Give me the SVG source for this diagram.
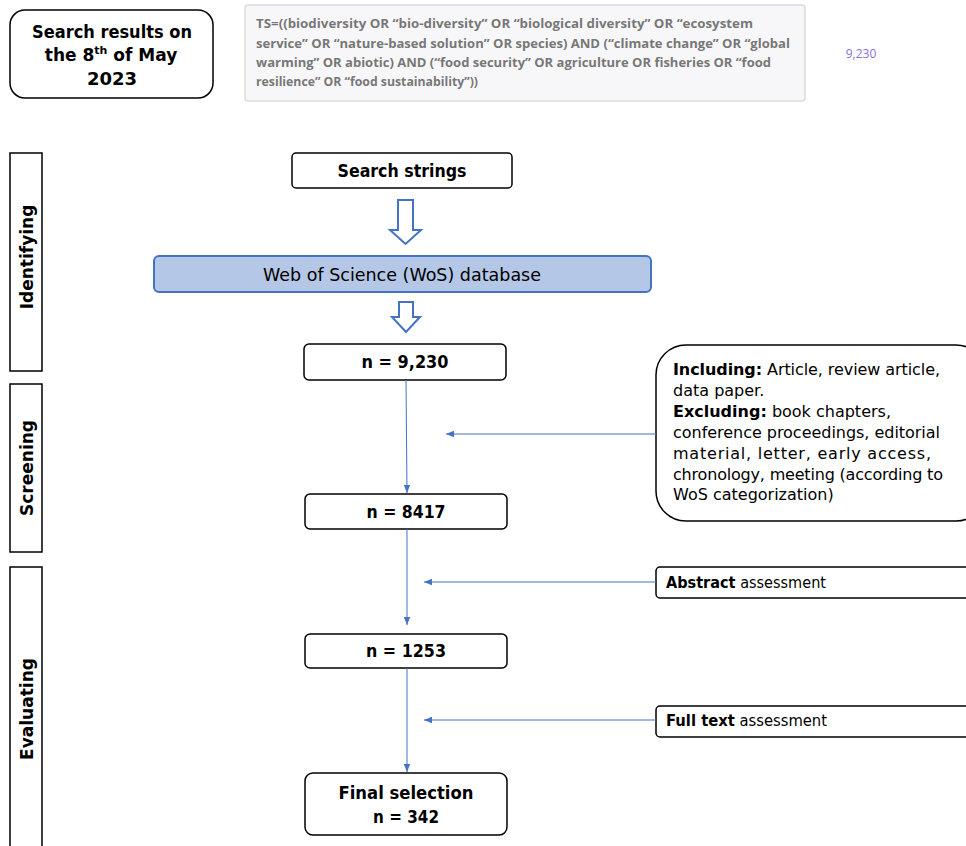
<svg xmlns="http://www.w3.org/2000/svg" width="966" height="846" viewBox="0 0 966 846">
<style>
.box{fill:#fff;stroke:#000;stroke-width:1.5}
.t{font-family:"DejaVu Sans","Liberation Sans",sans-serif;fill:#000}
.b{font-weight:bold}
.q{font-family:"Open Sans","Liberation Sans",sans-serif;font-weight:bold;font-size:13px;fill:#777}
.con{stroke:#4472c4;stroke-width:1;fill:none}
.hollow{fill:#fff;stroke:#4472c4;stroke-width:2;stroke-linejoin:miter}
</style>
<defs>
<marker id="ah" viewBox="0 0 10 10" refX="10" refY="5" markerWidth="8" markerHeight="8" markerUnits="userSpaceOnUse" orient="auto">
<path d="M0,1 L10,5 L0,9 Z" fill="#4472c4"/>
</marker>
</defs>

<g id="date-box">
<rect class="box" x="10" y="10" width="203" height="88" rx="15"/>
<text class="t b" font-size="18" text-anchor="middle" x="112" y="38" textLength="160" lengthAdjust="spacingAndGlyphs">Search results on</text>
<text class="t b" font-size="17" text-anchor="middle" x="111" y="61">the 8<tspan font-size="11" dy="-7">th</tspan><tspan dy="7"> of May</tspan></text>
<text class="t b" font-size="18" text-anchor="middle" x="112" y="85">2023</text>
</g>

<g id="query-box">
<rect x="245" y="5" width="560" height="96" rx="3" fill="#f7f7f9" stroke="#dcdcdc" stroke-width="1.5"/>
<text class="q" x="256" y="28" textLength="497" lengthAdjust="spacingAndGlyphs">TS=((biodiversity OR “bio-diversity” OR “biological diversity” OR “ecosystem</text>
<text class="q" x="256" y="48" textLength="534" lengthAdjust="spacingAndGlyphs">service” OR “nature-based solution” OR species) AND (“climate change” OR “global</text>
<text class="q" x="256" y="67" textLength="515" lengthAdjust="spacingAndGlyphs">warming” OR abiotic) AND (“food security” OR agriculture OR fisheries OR “food</text>
<text class="q" x="256" y="86" textLength="222" lengthAdjust="spacingAndGlyphs">resilience” OR “food sustainability”))</text>
</g>

<g id="count">
<text x="861" y="58" text-anchor="middle" font-family="Open Sans, Liberation Sans, sans-serif" font-size="12" fill="#8b6fd9">9,230</text>
</g>

<g id="stage-identifying">
<rect class="box" x="10" y="153" width="32" height="218"/>
<text class="t b" font-size="17" text-anchor="middle" transform="translate(33,257) rotate(-90)">Identifying</text>
</g>
<g id="stage-screening">
<rect class="box" x="10" y="384" width="32" height="168"/>
<text class="t b" font-size="17" text-anchor="middle" transform="translate(33,468) rotate(-90)">Screening</text>
</g>
<g id="stage-evaluating">
<rect class="box" x="10" y="567" width="32" height="290"/>
<text class="t b" font-size="17" text-anchor="middle" transform="translate(33,709) rotate(-90)">Evaluating</text>
</g>

<g id="search-strings">
<rect class="box" x="292" y="153" width="220" height="35" rx="4"/>
<text class="t b" font-size="18" text-anchor="middle" x="402" y="177" textLength="129" lengthAdjust="spacingAndGlyphs">Search strings</text>
</g>

<g id="wos">
<rect x="154" y="256" width="497" height="36" rx="5" fill="#b4c7e7" stroke="#4472c4" stroke-width="2"/>
<text class="t" font-size="18" text-anchor="middle" x="402" y="281" textLength="278" lengthAdjust="spacingAndGlyphs">Web of Science (WoS) database</text>
</g>

<g id="n9230">
<rect class="box" x="304" y="344" width="202" height="36" rx="5"/>
<text class="t b" font-size="18" text-anchor="middle" x="405" y="368" textLength="87" lengthAdjust="spacingAndGlyphs">n = 9,230</text>
</g>

<g id="criteria">
<rect class="box" x="656" y="345" width="330" height="176" rx="30"/>
<g class="t" font-size="16">
<text x="673" y="375" textLength="267" lengthAdjust="spacing"><tspan class="b">Including:</tspan> Article, review article,</text>
<text x="673" y="396">data paper.</text>
<text x="673" y="417"><tspan class="b">Excluding:</tspan> book chapters,</text>
<text x="673" y="438" textLength="267" lengthAdjust="spacing">conference proceedings, editorial</text>
<text x="673" y="459" textLength="258" lengthAdjust="spacing">material, letter, early access,</text>
<text x="673" y="480" textLength="270" lengthAdjust="spacing">chronology, meeting (according to</text>
<text x="673" y="500">WoS categorization)</text>
</g>
</g>

<g id="n8417">
<rect class="box" x="305" y="494" width="202" height="35" rx="5"/>
<text class="t b" font-size="18" text-anchor="middle" x="406" y="518" textLength="79" lengthAdjust="spacingAndGlyphs">n = 8417</text>
</g>

<g id="abstract">
<rect class="box" x="656" y="567" width="330" height="31" rx="4"/>
<text class="t" font-size="16" x="666" y="588" textLength="160" lengthAdjust="spacingAndGlyphs"><tspan class="b">Abstract</tspan> assessment</text>
</g>

<g id="n1253">
<rect class="box" x="305" y="634" width="202" height="34" rx="5"/>
<text class="t b" font-size="18" text-anchor="middle" x="406" y="657" textLength="80" lengthAdjust="spacingAndGlyphs">n = 1253</text>
</g>

<g id="fulltext">
<rect class="box" x="656" y="706" width="330" height="31" rx="4"/>
<text class="t" font-size="16" x="666" y="726" textLength="161" lengthAdjust="spacingAndGlyphs"><tspan class="b">Full text</tspan> assessment</text>
</g>

<g id="final">
<rect class="box" x="305" y="773" width="202" height="62" rx="8"/>
<text class="t b" font-size="18" text-anchor="middle" x="406" y="799" textLength="135" lengthAdjust="spacingAndGlyphs">Final selection</text>
<text class="t b" font-size="18" text-anchor="middle" x="406" y="823" textLength="66" lengthAdjust="spacingAndGlyphs">n = 342</text>
</g>

<g id="connectors">
<path class="hollow" d="M398,200 H413 V230 H421 L405.5,244 L390,230 H398 Z"/>
<path class="hollow" d="M399,302 H413 V317 H420 L406,332 L392,317 H399 Z"/>
<line class="con" x1="406" y1="380" x2="407" y2="493" marker-end="url(#ah)"/>
<line class="con" x1="656" y1="434" x2="446" y2="434" marker-end="url(#ah)"/>
<line class="con" x1="407" y1="529" x2="407" y2="625" marker-end="url(#ah)"/>
<line class="con" x1="656" y1="582" x2="424" y2="582" marker-end="url(#ah)"/>
<line class="con" x1="407" y1="668" x2="407" y2="772" marker-end="url(#ah)"/>
<line class="con" x1="656" y1="720" x2="424" y2="720" marker-end="url(#ah)"/>
</g>
</svg>
